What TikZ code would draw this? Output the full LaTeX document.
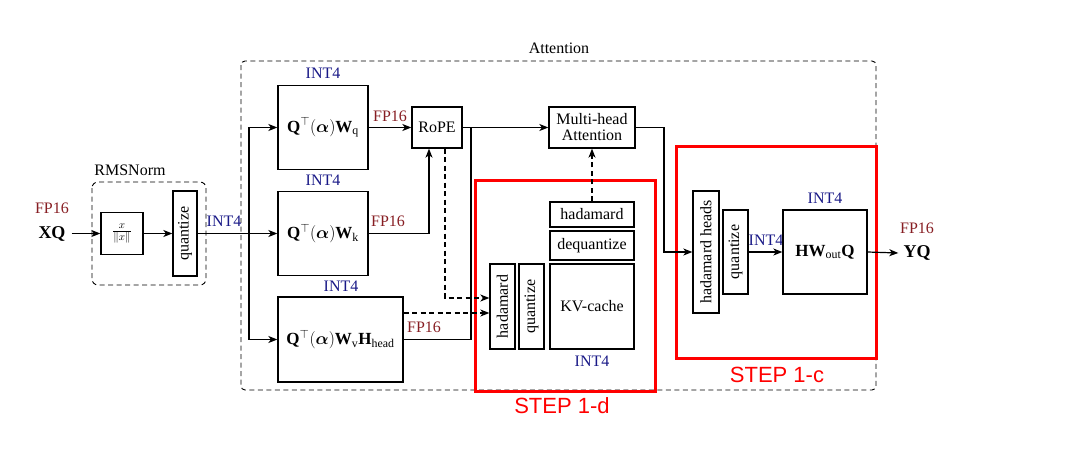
\documentclass[tikz,border=0pt]{standalone}
\usepackage{amsmath}
\usepackage{fontspec}
\setmainfont{Liberation Serif}
\newfontfamily\stepfont{Liberation Sans}
\usetikzlibrary{arrows.meta}
\definecolor{fpc}{RGB}{135,30,35}
\definecolor{intc}{RGB}{25,25,135}
\begin{document}
\begin{tikzpicture}[x=1pt,y=-1pt,
  every node/.style={font=\fontsize{16}{18}\selectfont},
  blk/.style={draw,line width=1.3pt,inner sep=0pt,align=center},
  frm/.style={font=\fontsize{17}{19}\selectfont},
  grp/.style={draw,dashed,line width=0.9pt,dash pattern=on 5pt off 3.5pt,rounded corners=#1},
  redbox/.style={draw=red,line width=3pt},
  fplab/.style={text=fpc,inner sep=0pt},
  intlab/.style={text=intc,inner sep=0pt},
  steplab/.style={text=red,font=\stepfont\fontsize{22}{24}\selectfont,inner sep=0pt},
  io/.style={font=\fontsize{18}{20}\selectfont\bfseries,inner sep=0pt},
  arr/.style={line width=1.2pt,-{Stealth[length=9pt,width=7pt,inset=2.5pt]}},
  ln/.style={line width=1.2pt},
  darr/.style={line width=1.2pt,dash pattern=on 5pt off 3.5pt,-{Stealth[length=9pt,width=7pt,inset=2.5pt]}}
]
\useasboundingbox (0,0) rectangle (1090,453);

% group boxes
\draw[grp=6pt] (92,182) rectangle (206,285);
\node (rmslab) at (130,170) {RMSNorm};
\draw[grp=4pt] (241,61) rectangle (876,390);
\node (attlab) at (559,48) {Attention};

% red highlight boxes
\draw[redbox] (475,180) rectangle (655,391);
\node[steplab] (step1d) at (562,406) {STEP 1-d};
\draw[redbox] (676,146) rectangle (876,358);
\node[steplab] (step1c) at (777,375) {STEP 1-c};

% input
\node[io] (xq) at (52,233.5) {XQ};
\node[fplab] (xqfp) at (52,208) {FP16};
\node[blk,minimum width=42,minimum height=42] (norm) at (122,233.5) {\fontsize{15}{17}\selectfont$\frac{x}{\|x\|}$};
\node[blk,minimum width=24,minimum height=85] (q1) at (185,233.5) {\rotatebox{90}{quantize}};
\node[intlab] (q1int) at (224,221) {INT4};

% projections
\node[blk,frm,minimum width=90,minimum height=84] (wq) at (323,127.5) {$\mathbf{Q}^{\top}(\boldsymbol{\alpha})\mathbf{W}_{\mathrm{q}}$};
\node[intlab] (wqint) at (323,73) {INT4};
\node[fplab] (wqfp) at (390,116) {FP16};
\node[blk,frm,minimum width=90,minimum height=84] (wk) at (323,233.5) {$\mathbf{Q}^{\top}(\boldsymbol{\alpha})\mathbf{W}_{\mathrm{k}}$};
\node[intlab] (wkint) at (323,180) {INT4};
\node[fplab] (wkfp) at (388,221) {FP16};
\node[blk,frm,minimum width=125,minimum height=85] (wv) at (340.5,339.5) {$\mathbf{Q}^{\top}(\boldsymbol{\alpha})\mathbf{W}_{\mathrm{v}}\mathbf{H}_{\mathrm{head}}$};
\node[intlab] (wvint) at (341,286) {INT4};
\node[fplab] (wvfp) at (424,327) {FP16};

% rope and attention
\node[blk,minimum width=50,minimum height=41] (rope) at (437,127.5) {RoPE};
\node[blk,minimum width=86,minimum height=41] (mha) at (592,127.5) {Multi-head\\[-2pt]Attention};

% KV cache block
\node[blk,minimum width=25,minimum height=85] (had1) at (502.5,306.5) {\rotatebox{90}{hadamard}};
\node[blk,minimum width=25,minimum height=85] (q2) at (531.5,306.5) {\rotatebox{90}{quantize}};
\node[blk,minimum width=84,minimum height=85] (kv) at (592,306.5) {KV-cache};
\node[blk,minimum width=84,minimum height=29] (deq) at (592,245.5) {dequantize};
\node[blk,minimum width=84,minimum height=25] (had2) at (592,214.5) {hadamard};
\node[intlab] (kvint) at (592,361) {INT4};

% output block
\node[blk,minimum width=26,minimum height=122] (hh) at (706,252) {\rotatebox{90}{hadamard heads}};
\node[blk,minimum width=25,minimum height=84] (q3) at (735.5,252) {\rotatebox{90}{quantize}};
\node[intlab] (q3int) at (766,240) {INT4};
\node[blk,frm,minimum width=84,minimum height=84] (hwq) at (825,252) {$\mathbf{H}\mathbf{W}_{\mathrm{out}}\mathbf{Q}$};
\node[intlab] (hwqint) at (825,198) {INT4};
\node[io] (yq) at (917,253) {YQ};
\node[fplab] (yqfp) at (917,228) {FP16};

% coordinates
\coordinate (sp) at (249,233.5);
\coordinate (jn) at (471,127.5);
\coordinate (mr) at (664,127.5);
\coordinate (xs) at ([xshift=6pt]xq.east);
\coordinate (d1) at ([xshift=8pt]rope.south);
\coordinate (d2) at ([yshift=26.5pt]wv.east);
\coordinate (h1) at ([yshift=8.5pt]had1.west);

% connectors
\draw[arr] (xs) -- (norm.west);
\draw[arr] (norm.east) -- (q1.west);
\draw[arr] (q1.east) -- (wk.west);
\draw[arr] (sp) |- (wq.west);
\draw[arr] (sp) |- (wv.west);
\draw[arr] (wq.east) -- (rope.west);
\draw[arr] (wk.east) -| ([xshift=-8pt]rope.south);
\draw[arr] (rope.east) -- (mha.west);
\draw[ln] (wv.east) -| (jn);
\draw[darr] (d1) |- (h1);
\draw[darr] (d2) -- (d2 -| had1.west);
\draw[darr] (had2.north) -- (mha.south);
\draw[arr] (mha.east) -- (mr) |- (hh.west);
\draw[arr] (q3.east) -- (hwq.west);
\draw[arr] (hwq.east) -- ([xshift=-5pt]yq.west);
\end{tikzpicture}
\end{document}
